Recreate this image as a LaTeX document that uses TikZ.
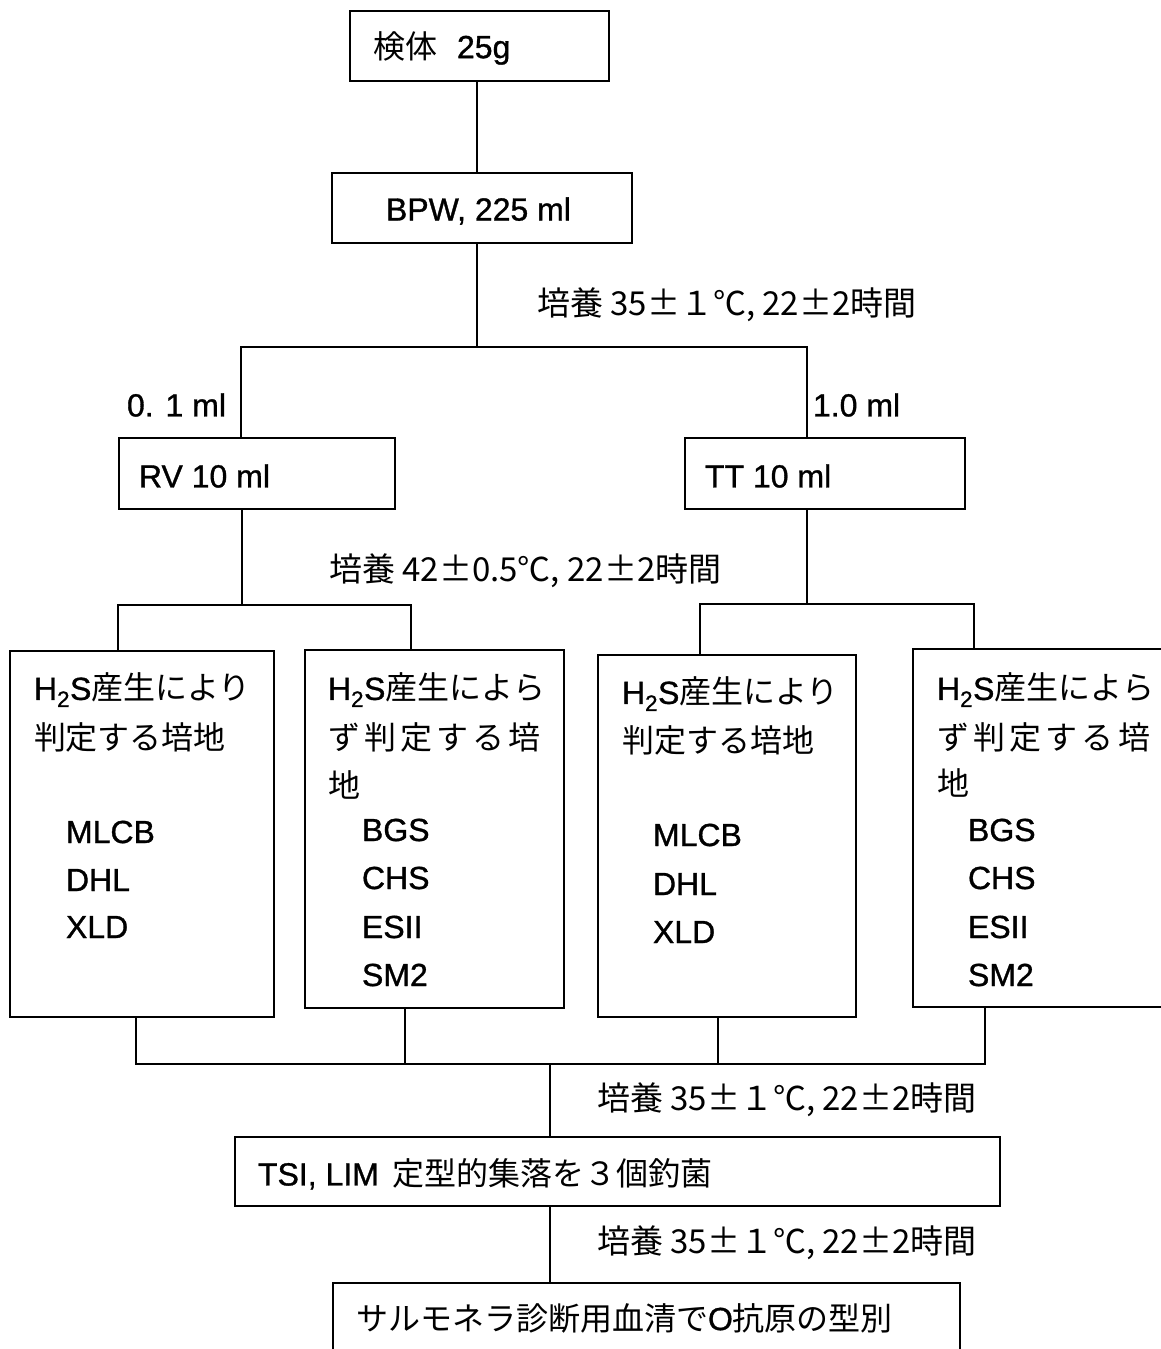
\documentclass[tikz,border=0pt]{standalone}
\usepackage{fontspec}
\setmainfont[FakeBold=1]{Liberation Sans}
\newfontfamily\jp{Noto Sans CJK JP}
\newcommand\myfs{\fontsize{32pt}{38pt}\selectfont}
\newcommand\lbfs{\fontsize{33pt}{40pt}\selectfont}
\begin{document}
\begin{tikzpicture}[x=1pt,y=-1pt,line width=2pt,
  bx/.style 2 args={draw,line width=2pt,minimum width=#1,minimum height=#2,inner sep=0pt},
  tx/.style={anchor=west,inner sep=0pt,font=\myfs},
  lb/.style={anchor=west,inner sep=0pt,font=\jp\lbfs}]
\useasboundingbox (0,0) rectangle (1161,1349);
\clip (0,0) rectangle (1161,1349);

% boxes
\node[bx={259}{70}] (b1) at (479.5,46) {};
\node[bx={300}{70}] (b2) at (482,208) {};
\node[bx={276}{71}] (rv) at (257,473.5) {};
\node[bx={280}{71}] (tt) at (825,473.5) {};
\node[bx={264}{366}] (A) at (142,834) {};
\node[bx={259}{358}] (B) at (434.5,829) {};
\node[bx={258}{362}] (C) at (727,836) {};
\node[bx={262}{358}] (D) at (1044,828) {};
\node[bx={765}{69}] (tsi) at (617.5,1171.5) {};
\node[bx={627}{117}] (fin) at (646.5,1341.5) {};

% box texts
\node[tx] (t1) at (372,48) {{\jp 検体}\hspace{20pt}25g};
\node[tx] (t2) at (385,211) {BPW, 225 ml};
\node[tx] (t3) at (138,476) {RV 10 ml};
\node[tx] (t4) at (704,476) {TT 10 ml};

\node[tx] (a1) at (33,690) {H\textsubscript{2}S{\jp 産生により}};
\node[tx] (a2) at (33,737) {\jp 判定する培地};
\node[tx] (a3) at (65,832) {MLCB};
\node[tx] (a4) at (65,880) {DHL};
\node[tx] (a5) at (65,927) {XLD};

\node[tx] (bb1) at (327,690) {H\textsubscript{2}S{\jp 産生によら}};
\node[tx] (bb2) at (327,737) {\jp\makebox[213pt][s]{ず\hfill 判\hfill 定\hfill す\hfill る\hfill 培}};
\node[tx] (bb3) at (327,785) {\jp 地};
\node[tx] (bb4) at (361,830) {BGS};
\node[tx] (bb5) at (361,878) {CHS};
\node[tx] (bb6) at (361,927) {ESII};
\node[tx] (bb7) at (361,975) {SM2};

\node[tx] (c1) at (621,694) {H\textsubscript{2}S{\jp 産生により}};
\node[tx] (c2) at (621,740) {\jp 判定する培地};
\node[tx] (c3) at (652,835) {MLCB};
\node[tx] (c4) at (652,884) {DHL};
\node[tx] (c5) at (652,932) {XLD};

\node[tx] (d1) at (936,690) {H\textsubscript{2}S{\jp 産生によら}};
\node[tx] (d2) at (936,737) {\jp\makebox[213pt][s]{ず\hfill 判\hfill 定\hfill す\hfill る\hfill 培}};
\node[tx] (d3) at (936,783) {\jp 地};
\node[tx] (d4) at (967,830) {BGS};
\node[tx] (d5) at (967,878) {CHS};
\node[tx] (d6) at (967,927) {ESII};
\node[tx] (d7) at (967,975) {SM2};

\node[tx] (t7) at (257,1174) {TSI, LIM\hspace{14pt}{\jp 定型的集落を３個釣菌}};
\node[tx] (t8) at (355,1318) {{\jp サルモネラ診断用血清で}O{\jp 抗原の型別}};

% labels
\node[lb] (l1) at (536,305) {培養 35±１℃, 22±2時間};
\node[tx,anchor=east] (v1) at (227,405) {0. 1 ml};
\node[tx] (v2) at (812,405) {1.0 ml};
\node[lb] (l2) at (328,571) {培養 42±0.5℃, 22±2時間};
\node[lb] (l3) at (596,1100) {培養 35±１℃, 22±2時間};
\node[lb] (l4) at (596,1243) {培養 35±１℃, 22±2時間};

% connectors
\coordinate (xa) at (477,347);
\coordinate (hL) at (241,347);
\coordinate (hR) at (807,347);
\draw (b1.south -| xa) -- (b2.north -| xa);
\draw (b2.south -| xa) -- (xa);
\draw (hL |- rv.north) -- (hL) -- (hR) -- (hR |- tt.north);

\coordinate (sL) at (242,605);
\coordinate (sLa) at (118,605);
\coordinate (sLb) at (411,605);
\draw (rv.south -| sL) -- (sL);
\draw (sLa |- A.north) -- (sLa) -- (sLb) -- (sLb |- B.north);

\coordinate (sR) at (807,604);
\coordinate (sRa) at (700,604);
\coordinate (sRb) at (974,604);
\draw (tt.south -| sR) -- (sR);
\draw (sRa |- C.north) -- (sRa) -- (sRb) -- (sRb |- D.north);

\coordinate (m1) at (136,1064);
\coordinate (m2) at (405,1064);
\coordinate (m3) at (718,1064);
\coordinate (m4) at (985,1064);
\coordinate (mc) at (550,1064);
\draw (A.south -| m1) -- (m1) -- (m4) -- (D.south -| m4);
\draw (B.south -| m2) -- (m2);
\draw (C.south -| m3) -- (m3);
\draw (mc) -- (tsi.north -| mc);
\draw (tsi.south -| mc) -- (fin.north -| mc);
\end{tikzpicture}
\end{document}
